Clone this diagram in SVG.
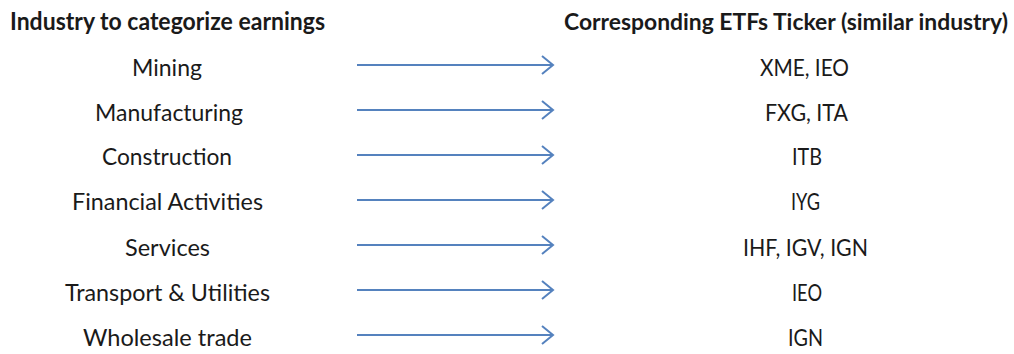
<svg xmlns="http://www.w3.org/2000/svg" width="1014" height="354" viewBox="0 0 1014 354">
  <defs>
    <style>
      text { font-family: Lato, "Open Sans", "Liberation Sans", sans-serif; font-size: 24px; fill: #1a1a1a; text-anchor: middle; }
      .hdr { font-weight: bold; }
      .hdr-r { font-size: 23px; }
      .conn line { stroke: #5582be; stroke-width: 2; }
      .conn polyline { fill: none; stroke: #5582be; stroke-width: 2; stroke-linejoin: miter; }
    </style>
  </defs>
  <rect width="1014" height="354" fill="#ffffff"/>

  <g id="header-left"><text class="hdr" x="167.5" y="30" textLength="315" lengthAdjust="spacingAndGlyphs">Industry to categorize earnings</text></g>
  <g id="header-right"><text class="hdr hdr-r" x="786" y="30" textLength="444" lengthAdjust="spacingAndGlyphs">Corresponding ETFs Ticker (similar industry)</text></g>

  <g id="ind-mining"><text x="167" y="76" textLength="70" lengthAdjust="spacingAndGlyphs">Mining</text></g>
  <g id="ind-manufacturing"><text x="169" y="121" textLength="148" lengthAdjust="spacingAndGlyphs">Manufacturing</text></g>
  <g id="ind-construction"><text x="167" y="165" textLength="130" lengthAdjust="spacingAndGlyphs">Construction</text></g>
  <g id="ind-financial"><text x="167.5" y="210" textLength="191" lengthAdjust="spacingAndGlyphs">Financial Activities</text></g>
  <g id="ind-services"><text x="167.5" y="256" textLength="85" lengthAdjust="spacingAndGlyphs">Services</text></g>
  <g id="ind-transport"><text x="167.5" y="301" textLength="205" lengthAdjust="spacingAndGlyphs">Transport &amp; Utilities</text></g>
  <g id="ind-wholesale"><text x="167.5" y="346" textLength="169" lengthAdjust="spacingAndGlyphs">Wholesale trade</text></g>

  <g id="etf-mining"><text x="804.5" y="76" textLength="89" lengthAdjust="spacingAndGlyphs">XME, IEO</text></g>
  <g id="etf-manufacturing"><text x="806.5" y="121" textLength="83" lengthAdjust="spacingAndGlyphs">FXG, ITA</text></g>
  <g id="etf-construction"><text x="807" y="165" textLength="30" lengthAdjust="spacingAndGlyphs">ITB</text></g>
  <g id="etf-financial"><text x="805.5" y="210" textLength="29" lengthAdjust="spacingAndGlyphs">IYG</text></g>
  <g id="etf-services"><text x="805.5" y="256" textLength="125" lengthAdjust="spacingAndGlyphs">IHF, IGV, IGN</text></g>
  <g id="etf-transport"><text x="807" y="301" textLength="30" lengthAdjust="spacingAndGlyphs">IEO</text></g>
  <g id="etf-wholesale"><text x="805.5" y="346" textLength="35" lengthAdjust="spacingAndGlyphs">IGN</text></g>

  <g id="connectors" class="conn">
    <line x1="357" y1="65" x2="553" y2="65"/><polyline points="542,56 553,65 542,74"/>
    <line x1="357" y1="110" x2="553" y2="110"/><polyline points="542,101 553,110 542,119"/>
    <line x1="357" y1="155" x2="553" y2="155"/><polyline points="542,146 553,155 542,164"/>
    <line x1="357" y1="200" x2="553" y2="200"/><polyline points="542,191 553,200 542,209"/>
    <line x1="357" y1="245" x2="553" y2="245"/><polyline points="542,236 553,245 542,254"/>
    <line x1="357" y1="290" x2="553" y2="290"/><polyline points="542,281 553,290 542,299"/>
    <line x1="357" y1="335" x2="553" y2="335"/><polyline points="542,326 553,335 542,344"/>
  </g>
</svg>
